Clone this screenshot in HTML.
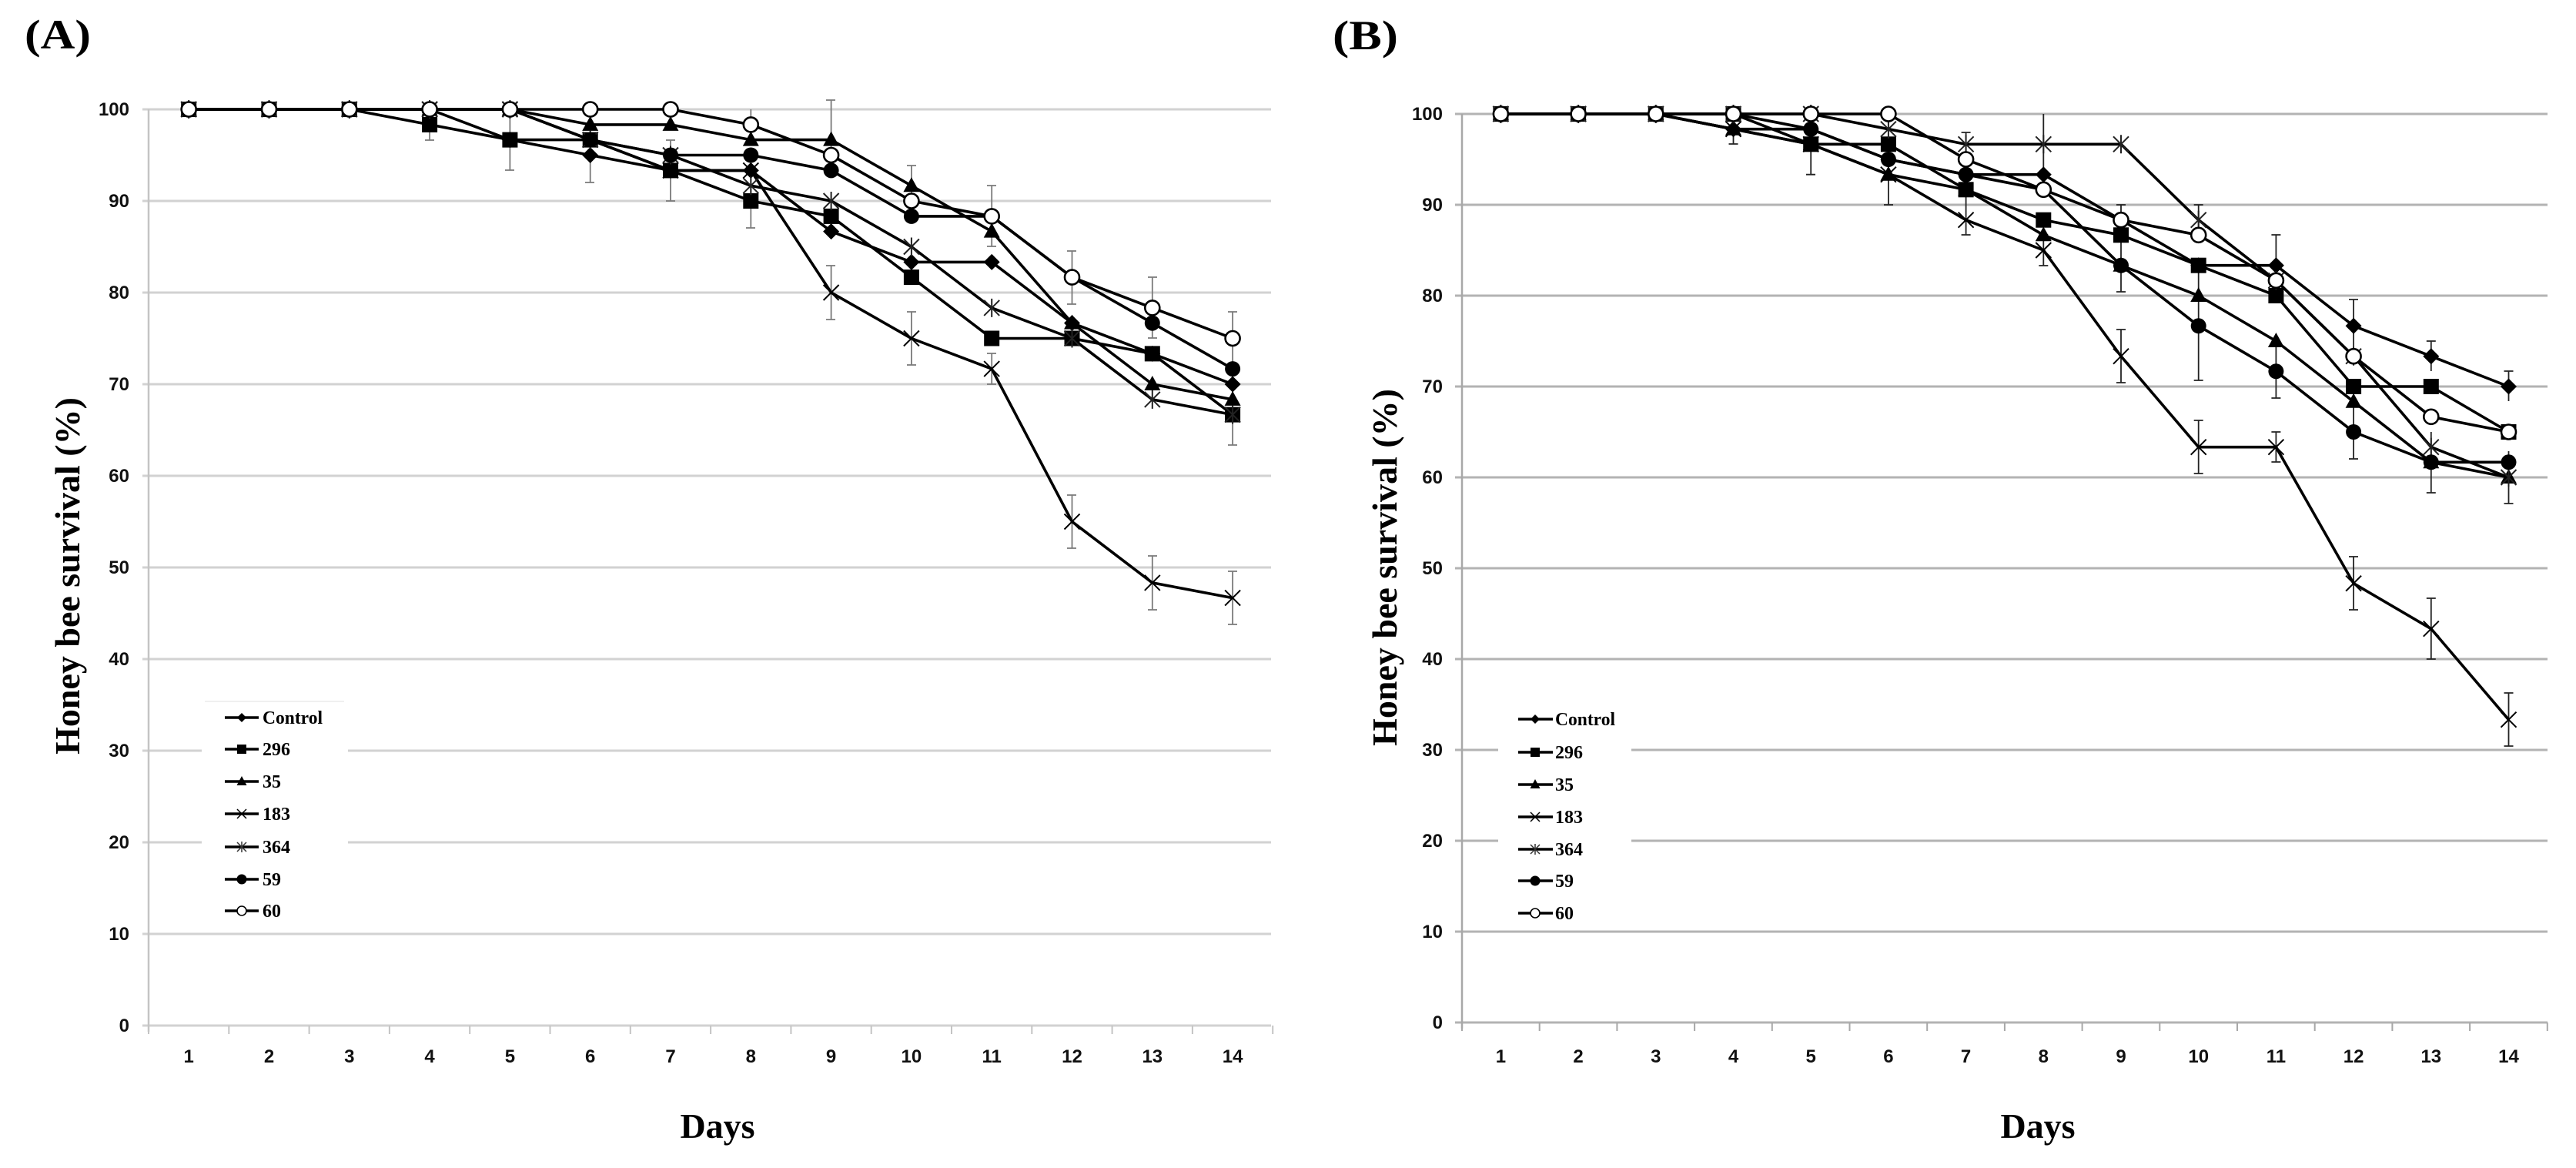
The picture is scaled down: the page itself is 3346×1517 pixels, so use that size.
<!DOCTYPE html>
<html>
<head>
<meta charset="utf-8">
<style>
html,body{margin:0;padding:0;background:#fff;}
svg{display:block;}
.tk{font-family:"Liberation Sans",sans-serif;font-weight:bold;font-size:24px;fill:#111;}
.lg{font-family:"Liberation Serif",serif;font-weight:bold;font-size:24px;fill:#000;}
.ttl{font-family:"Liberation Serif",serif;font-weight:bold;fill:#000;}
.ser{fill:none;stroke:#000;stroke-width:3.6;stroke-linejoin:round;}
</style>
</head>
<body>
<svg width="3346" height="1517" viewBox="0 0 3346 1517" xmlns="http://www.w3.org/2000/svg">
<defs>
  <marker id="mDia" markerUnits="userSpaceOnUse" markerWidth="30" markerHeight="30" viewBox="-15 -15 30 30" refX="0" refY="0" overflow="visible"><path d="M0,-10.5L10.5,0L0,10.5L-10.5,0Z" fill="#000"/></marker>
  <marker id="mSq" markerUnits="userSpaceOnUse" markerWidth="30" markerHeight="30" viewBox="-15 -15 30 30" refX="0" refY="0" overflow="visible"><rect x="-10" y="-10" width="20" height="20" fill="#000"/></marker>
  <marker id="mTri" markerUnits="userSpaceOnUse" markerWidth="30" markerHeight="30" viewBox="-15 -15 30 30" refX="0" refY="0" overflow="visible"><path d="M0,-11L10.5,8L-10.5,8Z" fill="#000"/></marker>
  <marker id="mX" markerUnits="userSpaceOnUse" markerWidth="30" markerHeight="30" viewBox="-15 -15 30 30" refX="0" refY="0" overflow="visible"><path d="M-10,-10L10,10M-10,10L10,-10" stroke="#000" stroke-width="2" fill="none"/></marker>
  <marker id="mStar" markerUnits="userSpaceOnUse" markerWidth="30" markerHeight="30" viewBox="-15 -15 30 30" refX="0" refY="0" overflow="visible"><path d="M-10,-10L10,10M-10,10L10,-10M0,-12V12" stroke="#222" stroke-width="2" fill="none"/></marker>
  <marker id="mDot" markerUnits="userSpaceOnUse" markerWidth="30" markerHeight="30" viewBox="-15 -15 30 30" refX="0" refY="0" overflow="visible"><circle r="10" fill="#000"/></marker>
  <marker id="mOc" markerUnits="userSpaceOnUse" markerWidth="30" markerHeight="30" viewBox="-15 -15 30 30" refX="0" refY="0" overflow="visible"><circle r="9.5" fill="#fff" stroke="#000" stroke-width="2.6"/></marker>

  <marker id="lDia" markerUnits="userSpaceOnUse" markerWidth="20" markerHeight="20" viewBox="-10 -10 20 20" refX="0" refY="0" overflow="visible"><path d="M0,-6L6,0L0,6L-6,0Z" fill="#000"/></marker>
  <marker id="lSq" markerUnits="userSpaceOnUse" markerWidth="20" markerHeight="20" viewBox="-10 -10 20 20" refX="0" refY="0" overflow="visible"><rect x="-6" y="-6" width="12" height="12" fill="#000"/></marker>
  <marker id="lTri" markerUnits="userSpaceOnUse" markerWidth="20" markerHeight="20" viewBox="-10 -10 20 20" refX="0" refY="0" overflow="visible"><path d="M0,-7L6.5,5L-6.5,5Z" fill="#000"/></marker>
  <marker id="lX" markerUnits="userSpaceOnUse" markerWidth="20" markerHeight="20" viewBox="-10 -10 20 20" refX="0" refY="0" overflow="visible"><path d="M-6,-6L6,6M-6,6L6,-6" stroke="#000" stroke-width="1.5" fill="none"/></marker>
  <marker id="lStar" markerUnits="userSpaceOnUse" markerWidth="20" markerHeight="20" viewBox="-10 -10 20 20" refX="0" refY="0" overflow="visible"><path d="M-6,-6L6,6M-6,6L6,-6M0,-7V7" stroke="#333" stroke-width="1.5" fill="none"/></marker>
  <marker id="lDot" markerUnits="userSpaceOnUse" markerWidth="20" markerHeight="20" viewBox="-10 -10 20 20" refX="0" refY="0" overflow="visible"><circle r="6.5" fill="#000"/></marker>
  <marker id="lOc" markerUnits="userSpaceOnUse" markerWidth="20" markerHeight="20" viewBox="-10 -10 20 20" refX="0" refY="0" overflow="visible"><circle r="6" fill="#fff" stroke="#000" stroke-width="1.6"/></marker>
</defs>

<rect x="0" y="0" width="3346" height="1517" fill="#fff"/>

<!-- ================= PANEL A ================= -->
<text class="ttl" x="32" y="63" font-size="54" textLength="86" lengthAdjust="spacingAndGlyphs">(A)</text>

<!-- gridlines A -->
<path d="M185 1332H1651M185 1213H1651M185 1094H1651M185 975H1651M185 856H1651M185 737H1651M185 618H1651M185 499H1651M185 380H1651M185 261H1651M185 142H1651" stroke="#d2d2d2" stroke-width="3" fill="none"/>
<!-- y axis A -->
<path d="M193 142V1340" stroke="#c4c4c4" stroke-width="2.5" fill="none"/>
<!-- x ticks A -->
<path d="M193 1332V1343M297.3 1332V1343M401.6 1332V1343M505.9 1332V1343M610.2 1332V1343M714.5 1332V1343M818.8 1332V1343M923.1 1332V1343M1027.4 1332V1343M1131.7 1332V1343M1236 1332V1343M1340.3 1332V1343M1444.6 1332V1343M1548.9 1332V1343M1653.2 1332V1343" stroke="#c4c4c4" stroke-width="2" fill="none"/>

<!-- y tick labels A -->
<g class="tk" text-anchor="end">
<text x="168" y="150">100</text>
<text x="168" y="269">90</text>
<text x="168" y="388">80</text>
<text x="168" y="507">70</text>
<text x="168" y="626">60</text>
<text x="168" y="745">50</text>
<text x="168" y="864">40</text>
<text x="168" y="983">30</text>
<text x="168" y="1102">20</text>
<text x="168" y="1221">10</text>
<text x="168" y="1340">0</text>
</g>
<!-- x tick labels A -->
<g class="tk" text-anchor="middle">
<text x="245.2" y="1380">1</text>
<text x="349.5" y="1380">2</text>
<text x="453.8" y="1380">3</text>
<text x="558.1" y="1380">4</text>
<text x="662.4" y="1380">5</text>
<text x="766.7" y="1380">6</text>
<text x="871" y="1380">7</text>
<text x="975.3" y="1380">8</text>
<text x="1079.6" y="1380">9</text>
<text x="1183.9" y="1380">10</text>
<text x="1288.2" y="1380">11</text>
<text x="1392.5" y="1380">12</text>
<text x="1496.8" y="1380">13</text>
<text x="1601.1" y="1380">14</text>
</g>

<text class="ttl" font-size="46" text-anchor="middle" transform="translate(103,748) rotate(-90)">Honey bee survival (%)</text>
<text class="ttl" font-size="46" text-anchor="middle" x="932" y="1478">Days</text>

<!-- legend A -->
<rect x="262" y="908" width="190" height="297" fill="#fff"/>
<path d="M266 911H447" stroke="#f0f0f0" stroke-width="2"/>
<g class="ser" stroke-width="3.5">
<polyline points="292,932 314,932 336,932" marker-mid="url(#lDia)"/>
<polyline points="292,973 314,973 336,973" marker-mid="url(#lSq)"/>
<polyline points="292,1015 314,1015 336,1015" marker-mid="url(#lTri)"/>
<polyline points="292,1057 314,1057 336,1057" marker-mid="url(#lX)"/>
<polyline points="292,1100 314,1100 336,1100" marker-mid="url(#lStar)"/>
<polyline points="292,1142 314,1142 336,1142" marker-mid="url(#lDot)"/>
<polyline points="292,1183 314,1183 336,1183" marker-mid="url(#lOc)"/>
</g>
<g class="lg">
<text x="341" y="940" textLength="78" lengthAdjust="spacingAndGlyphs">Control</text>
<text x="341" y="981">296</text>
<text x="341" y="1023">35</text>
<text x="341" y="1065">183</text>
<text x="341" y="1108">364</text>
<text x="341" y="1150">59</text>
<text x="341" y="1191">60</text>
</g>

<!-- error bars A -->
<path d="M558.1 142V182M552 182h12
M662.4 148V221M656 148h12M656 221h12
M766.7 166V237M760 166h12M760 237h12
M871 182V261M865 182h12M865 261h12
M975.3 226V296M969 226h12M969 296h12
M975.3 142V182M969 182h12
M1079.6 345V415M1073 345h12M1073 415h12
M1079.6 130V221M1073 130h12M1073 221h12
M1183.9 405V474M1178 405h12M1178 474h12
M1183.9 215V261M1178 215h12M1178 261h12
M1288.2 459V499M1282 459h12M1282 499h12
M1288.2 241V320M1282 241h12M1282 320h12
M1392.5 643V712M1386 643h12M1386 712h12
M1392.5 326V395M1386 326h12M1386 395h12
M1496.8 722V792M1491 722h12M1491 792h12
M1496.8 360V439M1491 360h12M1491 439h12
M1601.1 742V811M1595 742h12M1595 811h12
M1601.1 405V474M1595 405h12M1595 474h12
M1601.1 499V578M1595 499h12M1595 578h12" stroke="#7a7a7a" stroke-width="1.8" fill="none"/>

<!-- series A -->
<polyline class="ser" marker-start="url(#mDia)" marker-mid="url(#mDia)" marker-end="url(#mDia)" points="245.2,142 349.5,142 453.8,142 558.1,142 662.4,181.6 766.7,201.5 871,221.4 975.3,221.4 1079.6,300.6 1183.9,340.4 1288.2,340.4 1392.5,419.6 1496.8,459.4 1601.1,499"/>
<polyline class="ser" marker-start="url(#mSq)" marker-mid="url(#mSq)" marker-end="url(#mSq)" points="245.2,142 349.5,142 453.8,142 558.1,161.9 662.4,181.6 766.7,181.6 871,221.4 975.3,261 1079.6,280.9 1183.9,360.1 1288.2,439.5 1392.5,439.5 1496.8,459.4 1601.1,538.6"/>
<polyline class="ser" marker-start="url(#mTri)" marker-mid="url(#mTri)" marker-end="url(#mTri)" points="245.2,142 349.5,142 453.8,142 558.1,142 662.4,142 766.7,161.9 871,161.9 975.3,181.6 1079.6,181.6 1183.9,241.2 1288.2,300.6 1392.5,419.6 1496.8,499 1601.1,518.9"/>
<polyline class="ser" marker-start="url(#mX)" marker-mid="url(#mX)" marker-end="url(#mX)" points="245.2,142 349.5,142 453.8,142 558.1,142 662.4,142 766.7,181.6 871,221.4 975.3,221.4 1079.6,380 1183.9,439.5 1288.2,479.1 1392.5,677.5 1496.8,756.9 1601.1,776.6"/>
<polyline class="ser" marker-start="url(#mStar)" marker-mid="url(#mStar)" marker-end="url(#mStar)" points="245.2,142 349.5,142 453.8,142 558.1,142 662.4,142 766.7,181.6 871,201.5 975.3,241.2 1079.6,261 1183.9,320.5 1288.2,399.9 1392.5,439.5 1496.8,518.9 1601.1,538.6"/>
<polyline class="ser" marker-start="url(#mDot)" marker-mid="url(#mDot)" marker-end="url(#mDot)" points="245.2,142 349.5,142 453.8,142 558.1,142 662.4,142 766.7,181.6 871,201.5 975.3,201.5 1079.6,221.4 1183.9,280.9 1288.2,280.9 1392.5,360.1 1496.8,419.6 1601.1,479.1"/>
<polyline class="ser" marker-start="url(#mOc)" marker-mid="url(#mOc)" marker-end="url(#mOc)" points="245.2,142 349.5,142 453.8,142 558.1,142 662.4,142 766.7,142 871,142 975.3,161.9 1079.6,201.5 1183.9,261 1288.2,280.9 1392.5,360.1 1496.8,399.9 1601.1,439.5"/>

<!-- ================= PANEL B ================= -->
<text class="ttl" x="1731" y="64" font-size="54" textLength="85" lengthAdjust="spacingAndGlyphs">(B)</text>

<path d="M1890 1328H3309M1890 1210H3309M1890 1092H3309M1890 974H3309M1890 856H3309M1890 738H3309M1890 620H3309M1890 502H3309M1890 384H3309M1890 266H3309M1890 148H3309" stroke="#b3b3b3" stroke-width="3" fill="none"/>
<path d="M1899 148V1336" stroke="#a8a8a8" stroke-width="2.5" fill="none"/>
<path d="M1899 1328V1339M1999.7 1328V1339M2100.4 1328V1339M2201.1 1328V1339M2301.8 1328V1339M2402.5 1328V1339M2503.2 1328V1339M2603.9 1328V1339M2704.6 1328V1339M2805.3 1328V1339M2906 1328V1339M3006.7 1328V1339M3107.4 1328V1339M3208.1 1328V1339M3308.8 1328V1339" stroke="#a8a8a8" stroke-width="2" fill="none"/>

<g class="tk" text-anchor="end">
<text x="1874" y="156">100</text>
<text x="1874" y="274">90</text>
<text x="1874" y="392">80</text>
<text x="1874" y="510">70</text>
<text x="1874" y="628">60</text>
<text x="1874" y="746">50</text>
<text x="1874" y="864">40</text>
<text x="1874" y="982">30</text>
<text x="1874" y="1100">20</text>
<text x="1874" y="1218">10</text>
<text x="1874" y="1336">0</text>
</g>
<g class="tk" text-anchor="middle">
<text x="1949.4" y="1380">1</text>
<text x="2050.1" y="1380">2</text>
<text x="2150.8" y="1380">3</text>
<text x="2251.5" y="1380">4</text>
<text x="2352.2" y="1380">5</text>
<text x="2452.9" y="1380">6</text>
<text x="2553.6" y="1380">7</text>
<text x="2654.3" y="1380">8</text>
<text x="2755" y="1380">9</text>
<text x="2855.7" y="1380">10</text>
<text x="2956.4" y="1380">11</text>
<text x="3057.1" y="1380">12</text>
<text x="3157.8" y="1380">13</text>
<text x="3258.5" y="1380">14</text>
</g>

<text class="ttl" font-size="46" text-anchor="middle" transform="translate(1814,737) rotate(-90)">Honey bee survival (%)</text>
<text class="ttl" font-size="46" text-anchor="middle" x="2647" y="1478">Days</text>

<!-- legend B -->
<rect x="1946" y="905" width="173" height="300" fill="#fff"/>
<g class="ser" stroke-width="3.5">
<polyline points="1972,934 1994,934 2017,934" marker-mid="url(#lDia)"/>
<polyline points="1972,977 1994,977 2017,977" marker-mid="url(#lSq)"/>
<polyline points="1972,1019 1994,1019 2017,1019" marker-mid="url(#lTri)"/>
<polyline points="1972,1061 1994,1061 2017,1061" marker-mid="url(#lX)"/>
<polyline points="1972,1103 1994,1103 2017,1103" marker-mid="url(#lStar)"/>
<polyline points="1972,1144 1994,1144 2017,1144" marker-mid="url(#lDot)"/>
<polyline points="1972,1186 1994,1186 2017,1186" marker-mid="url(#lOc)"/>
</g>
<g class="lg">
<text x="2020" y="942" textLength="78" lengthAdjust="spacingAndGlyphs">Control</text>
<text x="2020" y="985">296</text>
<text x="2020" y="1027">35</text>
<text x="2020" y="1069">183</text>
<text x="2020" y="1111">364</text>
<text x="2020" y="1152">59</text>
<text x="2020" y="1194">60</text>
</g>

<!-- error bars B -->
<path d="M2251.5 148V187M2245.5 187h12
M2352.2 148V226.7M2346 148h12M2346 226.7h12
M2452.9 187V266M2447 187h12M2447 266h12
M2553.6 172V305M2547.6 172h12M2547.6 305h12
M2654.3 305V345M2648.3 305h12M2648.3 345h12
M2654.3 148V226M2648.3 226h12
M2755 428V497M2749 428h12M2749 497h12
M2755 310V379M2749 310h12M2749 379h12
M2755 266V305M2749 266h12
M2855.7 546V615M2849.7 546h12M2849.7 615h12
M2855.7 352V494M2849.7 352h12M2849.7 494h12
M2855.7 266V305M2849.7 266h12
M2956.4 561V600M2950.4 561h12M2950.4 600h12
M2956.4 305V384M2950.4 305h12
M2956.4 448V517M2950.4 448h12M2950.4 517h12
M3057.1 723V792M3051 723h12M3051 792h12
M3057.1 389V458M3051 389h12
M3057.1 527V596M3051 596h12
M3157.8 777V856M3151.8 777h12M3151.8 856h12
M3157.8 443V482M3151.8 443h12
M3157.8 561V640M3151.8 640h12
M3258.5 900V969M3252.5 900h12M3252.5 969h12
M3258.5 482V521M3252.5 482h12
M3258.5 586V654M3252.5 654h12" stroke="#222" stroke-width="1.8" fill="none"/>

<!-- series B -->
<polyline class="ser" marker-start="url(#mDia)" marker-mid="url(#mDia)" marker-end="url(#mDia)" points="1949.4,148 2050.1,148 2150.8,148 2251.5,167.7 2352.2,167.7 2452.9,207 2553.6,226.7 2654.3,226.7 2755,285.7 2855.7,344.7 2956.4,344.7 3057.1,423.3 3157.8,462.7 3258.5,502"/>
<polyline class="ser" marker-start="url(#mSq)" marker-mid="url(#mSq)" marker-end="url(#mSq)" points="1949.4,148 2050.1,148 2150.8,148 2251.5,148 2352.2,187.3 2452.9,187.3 2553.6,246.3 2654.3,285.7 2755,305.3 2855.7,344.7 2956.4,384 3057.1,502 3157.8,502 3258.5,561"/>
<polyline class="ser" marker-start="url(#mTri)" marker-mid="url(#mTri)" marker-end="url(#mTri)" points="1949.4,148 2050.1,148 2150.8,148 2251.5,167.7 2352.2,187.3 2452.9,226.7 2553.6,246.3 2654.3,305.3 2755,344.7 2855.7,384 2956.4,443 3057.1,521.7 3157.8,600.3 3258.5,620"/>
<polyline class="ser" marker-start="url(#mX)" marker-mid="url(#mX)" marker-end="url(#mX)" points="1949.4,148 2050.1,148 2150.8,148 2251.5,167.7 2352.2,187.3 2452.9,226.7 2553.6,285.7 2654.3,325 2755,462.7 2855.7,580.7 2956.4,580.7 3057.1,757.7 3157.8,816.7 3258.5,934.7"/>
<polyline class="ser" marker-start="url(#mStar)" marker-mid="url(#mStar)" marker-end="url(#mStar)" points="1949.4,148 2050.1,148 2150.8,148 2251.5,148 2352.2,148 2452.9,167.7 2553.6,187.3 2654.3,187.3 2755,187.3 2855.7,285.7 2956.4,364.3 3057.1,462.7 3157.8,580.7 3258.5,620"/>
<polyline class="ser" marker-start="url(#mDot)" marker-mid="url(#mDot)" marker-end="url(#mDot)" points="1949.4,148 2050.1,148 2150.8,148 2251.5,148 2352.2,167.7 2452.9,207 2553.6,226.7 2654.3,246.3 2755,344.7 2855.7,423.3 2956.4,482.3 3057.1,561 3157.8,600.3 3258.5,600.3"/>
<polyline class="ser" marker-start="url(#mOc)" marker-mid="url(#mOc)" marker-end="url(#mOc)" points="1949.4,148 2050.1,148 2150.8,148 2251.5,148 2352.2,148 2452.9,148 2553.6,207 2654.3,246.3 2755,285.7 2855.7,305.3 2956.4,364.3 3057.1,462.7 3157.8,541.3 3258.5,561"/>
</svg>
</body>
</html>
